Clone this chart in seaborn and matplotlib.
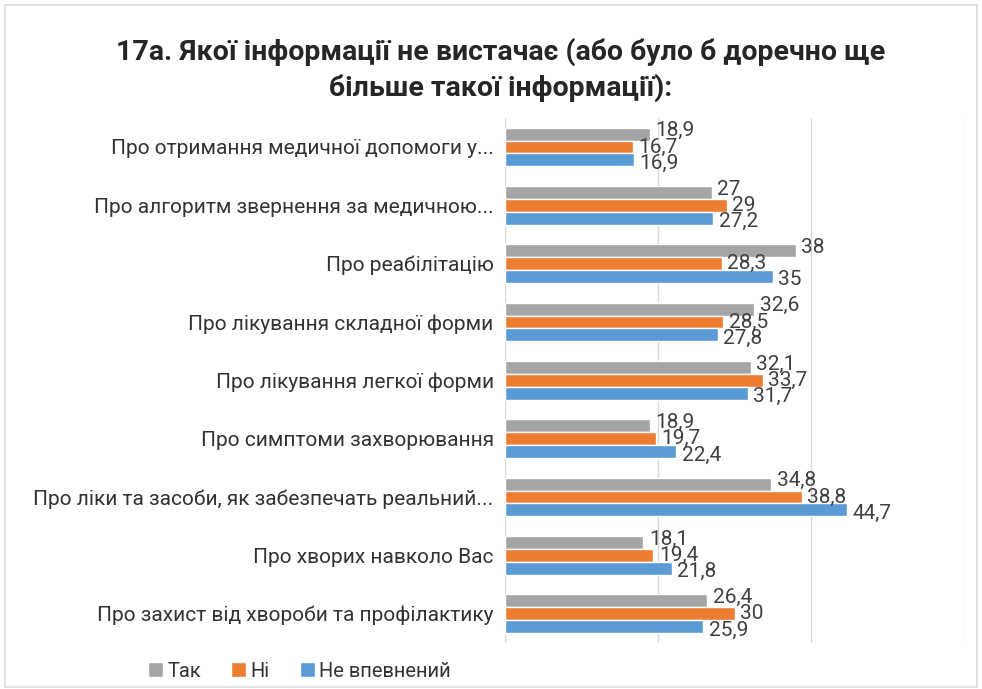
import matplotlib
matplotlib.use("Agg")
import matplotlib.pyplot as plt
import seaborn as sns
import pandas as pd
from matplotlib.patches import Rectangle

categories = [
    "Про отримання медичної допомоги у...",
    "Про алгоритм звернення за медичною...",
    "Про реабілітацію",
    "Про лікування складної форми",
    "Про лікування легкої форми",
    "Про симптоми захворювання",
    "Про ліки та засоби, як забезпечать реальний...",
    "Про хворих навколо Вас",
    "Про захист від хвороби та профілактику",
]
series_names = ["Так", "Ні", "Не впевнений"]
tak = [18.9, 27, 38, 32.6, 32.1, 18.9, 34.8, 18.1, 26.4]
ni = [16.7, 29, 28.3, 28.5, 33.7, 19.7, 38.8, 19.4, 30]
ne_vpevnenyi = [16.9, 27.2, 35, 27.8, 31.7, 22.4, 44.7, 21.8, 25.9]
colors = ["#A5A5A5", "#ED7D31", "#5B9BD5"]

rows = []
for name, vals in zip(series_names, [tak, ni, ne_vpevnenyi]):
    for cat, v in zip(categories, vals):
        rows.append({"category": cat, "series": name, "value": v})
df = pd.DataFrame(rows)

sns.set_theme(style="white")
plt.rcParams["font.family"] = ["Roboto", "DejaVu Sans"]

fig = plt.figure(figsize=(9.82, 6.89), dpi=100)
ax = fig.add_axes([0.514, 0.067, 0.468, 0.762])

sns.barplot(data=df, y="category", x="value", hue="series", order=categories,
            hue_order=series_names, palette=colors, orient="h", width=0.66,
            saturation=1, ax=ax, legend=True)

# value labels: spread the three labels of a group a little apart vertically
label_shift = [2.5, 0, -2.5]
for cont, dy in zip(ax.containers, label_shift):
    labels = [f"{v:g}".replace(".", ",") for v in cont.datavalues]
    anns = ax.bar_label(cont, labels=labels, padding=4, fontsize=15, color="#404040")
    for a in anns:
        x0, y0 = a.xyann
        a.xyann = (x0, y0 + dy)

ax.set_xlim(0, 60)
ax.set_xticks([0, 20, 40, 60])
ax.set_xticklabels([])
ax.tick_params(axis="x", length=0)
ax.tick_params(axis="y", length=0, pad=8, labelsize=15, labelcolor="#333333")
ax.grid(axis="x", color="#D9D9D9", linewidth=1)
ax.set_axisbelow(True)
for s in ax.spines.values():
    s.set_visible(False)
ax.set_xlabel("")
ax.set_ylabel("")

leg = ax.legend(loc="center", bbox_to_anchor=(0.305, 0.026),
                bbox_transform=fig.transFigure, ncol=3, frameon=False,
                fontsize=14.5, handlelength=0.75, handleheight=0.75,
                handletextpad=0.2, columnspacing=1.5)
for t in leg.get_texts():
    t.set_color("#333333")

fig.text(0.51, 0.925, "17а. Якої інформації не вистачає (або було б доречно ще",
         ha="center", va="center", fontsize=20.5, fontweight="bold", color="#262626")
fig.text(0.51, 0.872, "більше такої інформації):",
         ha="center", va="center", fontsize=20.5, fontweight="bold", color="#262626")

fig.patches.append(Rectangle((0.005, 0.003), 0.99, 0.99, transform=fig.transFigure,
                             fill=False, edgecolor="#D9D9D9", linewidth=1.2))

fig.savefig("out.png", dpi=100, facecolor="white")
